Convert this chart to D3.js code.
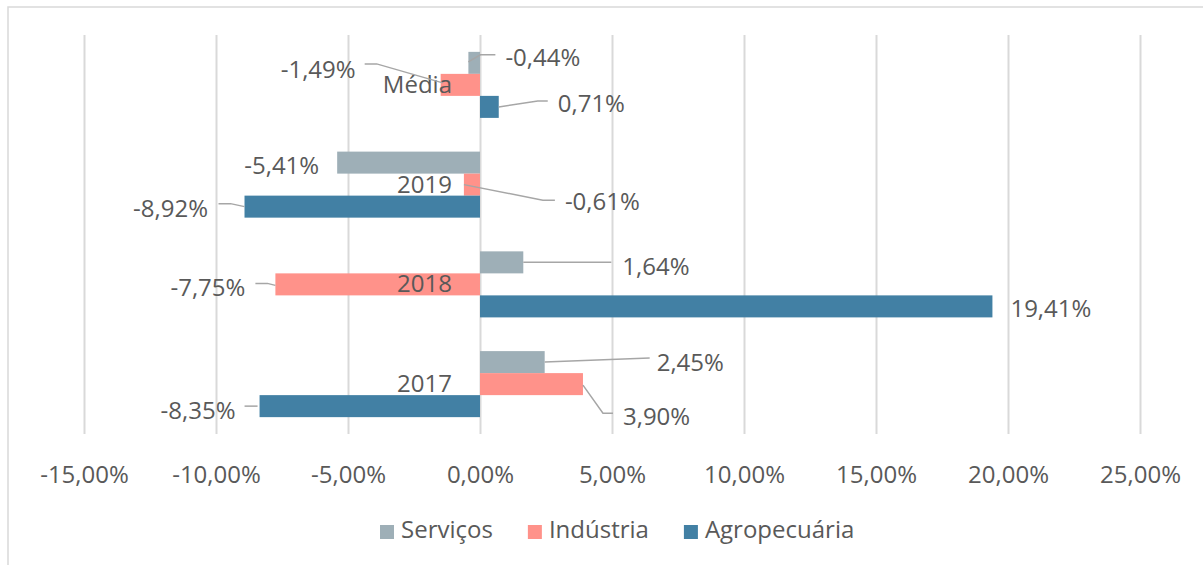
<!DOCTYPE html>
<html>
<head>
<meta charset="utf-8">
<script src="https://cdn.jsdelivr.net/npm/d3@7"></script>
<style>
  html, body { margin: 0; padding: 0; background: #fff; }
  svg { display: block; font-family: "Open Sans", "Noto Sans", sans-serif; font-weight: 400; }
</style>
</head>
<body>
<svg id="chart" width="1203" height="565"></svg>
<script>
// ---- data ----
const categories = ["Média", "2019", "2018", "2017"];
const seriesNames = ["Serviços", "Indústria", "Agropecuária"];
const servicos = [-0.44, -5.41, 1.64, 2.45];
const industria = [-1.49, -0.61, -7.75, 3.90];
const agropecuaria = [0.71, -8.92, 19.41, -8.35];
const tickValues = [-15, -10, -5, 0, 5, 10, 15, 20, 25];
const tickLabels = ["-15,00%", "-10,00%", "-5,00%", "0,00%", "5,00%", "10,00%", "15,00%", "20,00%", "25,00%"];

// ---- label layout (offsets from each bar's end, in px) ----
// [anchor, dx, dy, leader points]
const labelLayout = {
  "Serviços": [
    ["start", 37, -5, [[0, -1], [12, -8], [27, -8]]],
    ["end", -18, 2.5, null],
    ["start", 99, 4, [[0, 0], [88, 0]]],
    ["start", 112, 0, [[0, 0], [105, -4]]]
  ],
  "Indústria": [
    ["end", -85, -15.5, [[2, -2], [-64, -21], [-76, -21]]],
    ["start", 101, 17, [[0, 0], [79, 15.5], [91, 15.5]]],
    ["end", -30, 3, [[-20, -1], [-8, -1], [0, 1]]],
    ["start", 40, 32, [[0, 1], [20, 29], [30, 29]]]
  ],
  "Agropecuária": [
    ["start", 59, -3.5, [[0, 0], [39, -6], [49, -6]]],
    ["end", -36.5, 1.5, [[-26, -3], [-14, -3], [0, 0]]],
    ["start", 18, 2, null],
    ["end", -24, 4, [[-15, 0], [-2, 0]]]
  ]
};

const colors = { "Serviços": "#9EAFB7", "Indústria": "#FF928A", "Agropecuária": "#4280A4" };
const textColor = "#595959";
const fontSize = 24;

const seriesData = { "Serviços": servicos, "Indústria": industria, "Agropecuária": agropecuaria };

const locale = d3.formatLocale({ decimal: ",", thousands: ".", grouping: [3], currency: ["R$", ""], minus: "-" });
const fmt = v => locale.format(".2f")(v) + "%";

const svg = d3.select("#chart");

// frame
svg.append("path")
  .attr("d", "M8,565V7H1203")
  .attr("fill", "none")
  .attr("stroke", "#d9d9d9")
  .attr("stroke-width", 1.5);

const x = d3.scaleLinear().domain([-15, 25]).range([84, 1140]);
const y = d3.scaleBand().domain(categories).range([35, 434]).paddingInner(0.338).paddingOuter(0.169);
const ySub = d3.scaleBand().domain(seriesNames).range([0, y.bandwidth()]);

// x axis with gridlines
const xAxis = d3.axisBottom(x)
  .tickValues(tickValues)
  .tickFormat((d, i) => tickLabels[i])
  .tickSizeInner(-(434 - 35))
  .tickSizeOuter(0)
  .tickPadding(32);

const gx = svg.append("g").attr("transform", "translate(0,434)").call(xAxis);
gx.select(".domain").remove();
gx.selectAll(".tick line").attr("stroke", "#d9d9d9").attr("stroke-width", 2);
gx.selectAll(".tick text")
  .attr("fill", textColor)
  .style("font-size", fontSize + "px")
  .style("font-family", "'Open Sans', sans-serif");

// bars
const rows = [];
seriesNames.forEach(s => {
  categories.forEach((c, i) => {
    rows.push({ s, c, i, v: seriesData[s][i] });
  });
});

svg.append("g").selectAll("rect")
  .data(rows)
  .join("rect")
  .attr("x", d => Math.min(x(0), x(d.v)))
  .attr("y", d => y(d.c) + ySub(d.s))
  .attr("width", d => Math.abs(x(d.v) - x(0)))
  .attr("height", ySub.bandwidth())
  .attr("fill", d => colors[d.s]);

// category axis at zero
const yAxis = d3.axisLeft(y).tickSize(0).tickPadding(28);
const gy = svg.append("g").attr("transform", `translate(${x(0)},0)`).call(yAxis);
gy.select(".domain").remove();
gy.selectAll(".tick text")
  .attr("fill", textColor)
  .attr("dy", "0.33em")
  .style("font-size", fontSize + "px")
  .style("font-family", "'Open Sans', sans-serif");

// leaders and labels
const lg = svg.append("g");
const line = d3.line();
rows.forEach(d => {
  const [anchor, dx, dy, leader] = labelLayout[d.s][d.i];
  const bx = x(d.v);
  const by = y(d.c) + ySub(d.s) + ySub.bandwidth() / 2;
  if (leader) {
    lg.append("path")
      .attr("d", line(leader.map(p => [bx + p[0], by + p[1]])))
      .attr("fill", "none")
      .attr("stroke", "#a6a6a6")
      .attr("stroke-width", 1.5);
  }
  lg.append("text")
    .attr("x", bx + dx)
    .attr("y", by + dy)
    .attr("dy", "0.35em")
    .attr("text-anchor", anchor)
    .attr("fill", textColor)
    .style("font-size", fontSize + "px")
    .text(fmt(d.v));
});

// legend
const legend = svg.append("g");
let lx = 380;
seriesNames.forEach(s => {
  legend.append("rect")
    .attr("x", lx).attr("y", 525)
    .attr("width", 14).attr("height", 14)
    .attr("fill", colors[s]);
  const t = legend.append("text")
    .attr("x", lx + 21).attr("y", 538)
    .attr("fill", textColor)
    .style("font-size", fontSize + "px")
    .text(s);
  lx += 21 + t.node().getComputedTextLength() + 35;
});
</script>
</body>
</html>
